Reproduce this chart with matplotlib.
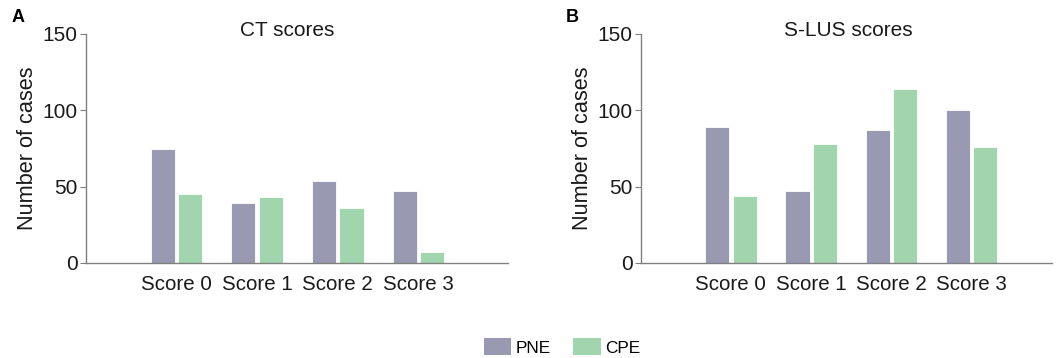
import matplotlib
matplotlib.use("Agg")
import matplotlib.pyplot as plt
import numpy as np
from matplotlib.patches import Patch

plt.rcParams['font.family'] = ['Liberation Sans', 'DejaVu Sans']

categories = ["Score 0", "Score 1", "Score 2", "Score 3"]
series_names = ["PNE", "CPE"]
ct_pne = [75, 39, 54, 47]
ct_cpe = [45, 43, 36, 7]
lus_pne = [89, 47, 87, 100]
lus_cpe = [44, 78, 114, 76]
titles = ["CT scores", "S-LUS scores"]
panel_labels = ["A", "B"]
yticks = [0, 50, 100, 150]

c_pne = "#9a99b2"
c_cpe = "#a0d5ae"

fig = plt.figure(figsize=(10.56, 3.58), dpi=100)
axA = fig.add_axes([86/1056, 1-263/358, (508-86)/1056, (263-34)/358])
axB = fig.add_axes([641/1056, 1-263/358, (1052-641)/1056, (263-34)/358])

x = np.arange(len(categories))
w = 0.30
for ax, pne, cpe, title, tx, lab, lx, xr in [
        (axA, ct_pne, ct_cpe, titles[0], 287/1056, panel_labels[0], 12/1056, 4.11),
        (axB, lus_pne, lus_cpe, titles[1], 848/1056, panel_labels[1], 566/1056, 4.0)]:
    ax.bar(x - 0.17, pne, w, color=c_pne, edgecolor="white", linewidth=0.6)
    ax.bar(x + 0.17, cpe, w, color=c_cpe, edgecolor="white", linewidth=0.6)
    ax.set_xlim(-1.12, xr)
    ax.set_ylim(0, 150)
    ax.set_yticks(yticks)
    ax.set_xticks(x)
    ax.set_xticklabels(categories)
    ax.tick_params(axis='x', length=0, labelsize=14.8, pad=9, colors="#1a1a1a")
    ax.tick_params(axis='y', length=4, width=0.8, labelsize=15, pad=2, color="#808080", labelcolor="#1a1a1a")
    for s in ["top", "right"]:
        ax.spines[s].set_visible(False)
    for s in ["left", "bottom"]:
        ax.spines[s].set_color("#808080")
        ax.spines[s].set_linewidth(1.0)
    ax.set_ylabel("Number of cases", fontsize=15.7, color="#1a1a1a", labelpad=3)
    fig.text(tx, 1-31/358, title, ha="center", va="center", fontsize=15, color="#1a1a1a")
    fig.text(lx, 1-18/358, lab, fontsize=13, fontweight="bold", ha="left", va="center")

handles = [Patch(facecolor=c_pne, label=series_names[0]), Patch(facecolor=c_cpe, label=series_names[1])]
fig.legend(handles=handles, loc="center", bbox_to_anchor=(562/1056, 1-347/358), ncol=2, frameon=False,
           fontsize=12.4, handlelength=1.6, handleheight=1.1, handletextpad=0.25, columnspacing=1.3)

fig.savefig("out.png", dpi=100)
